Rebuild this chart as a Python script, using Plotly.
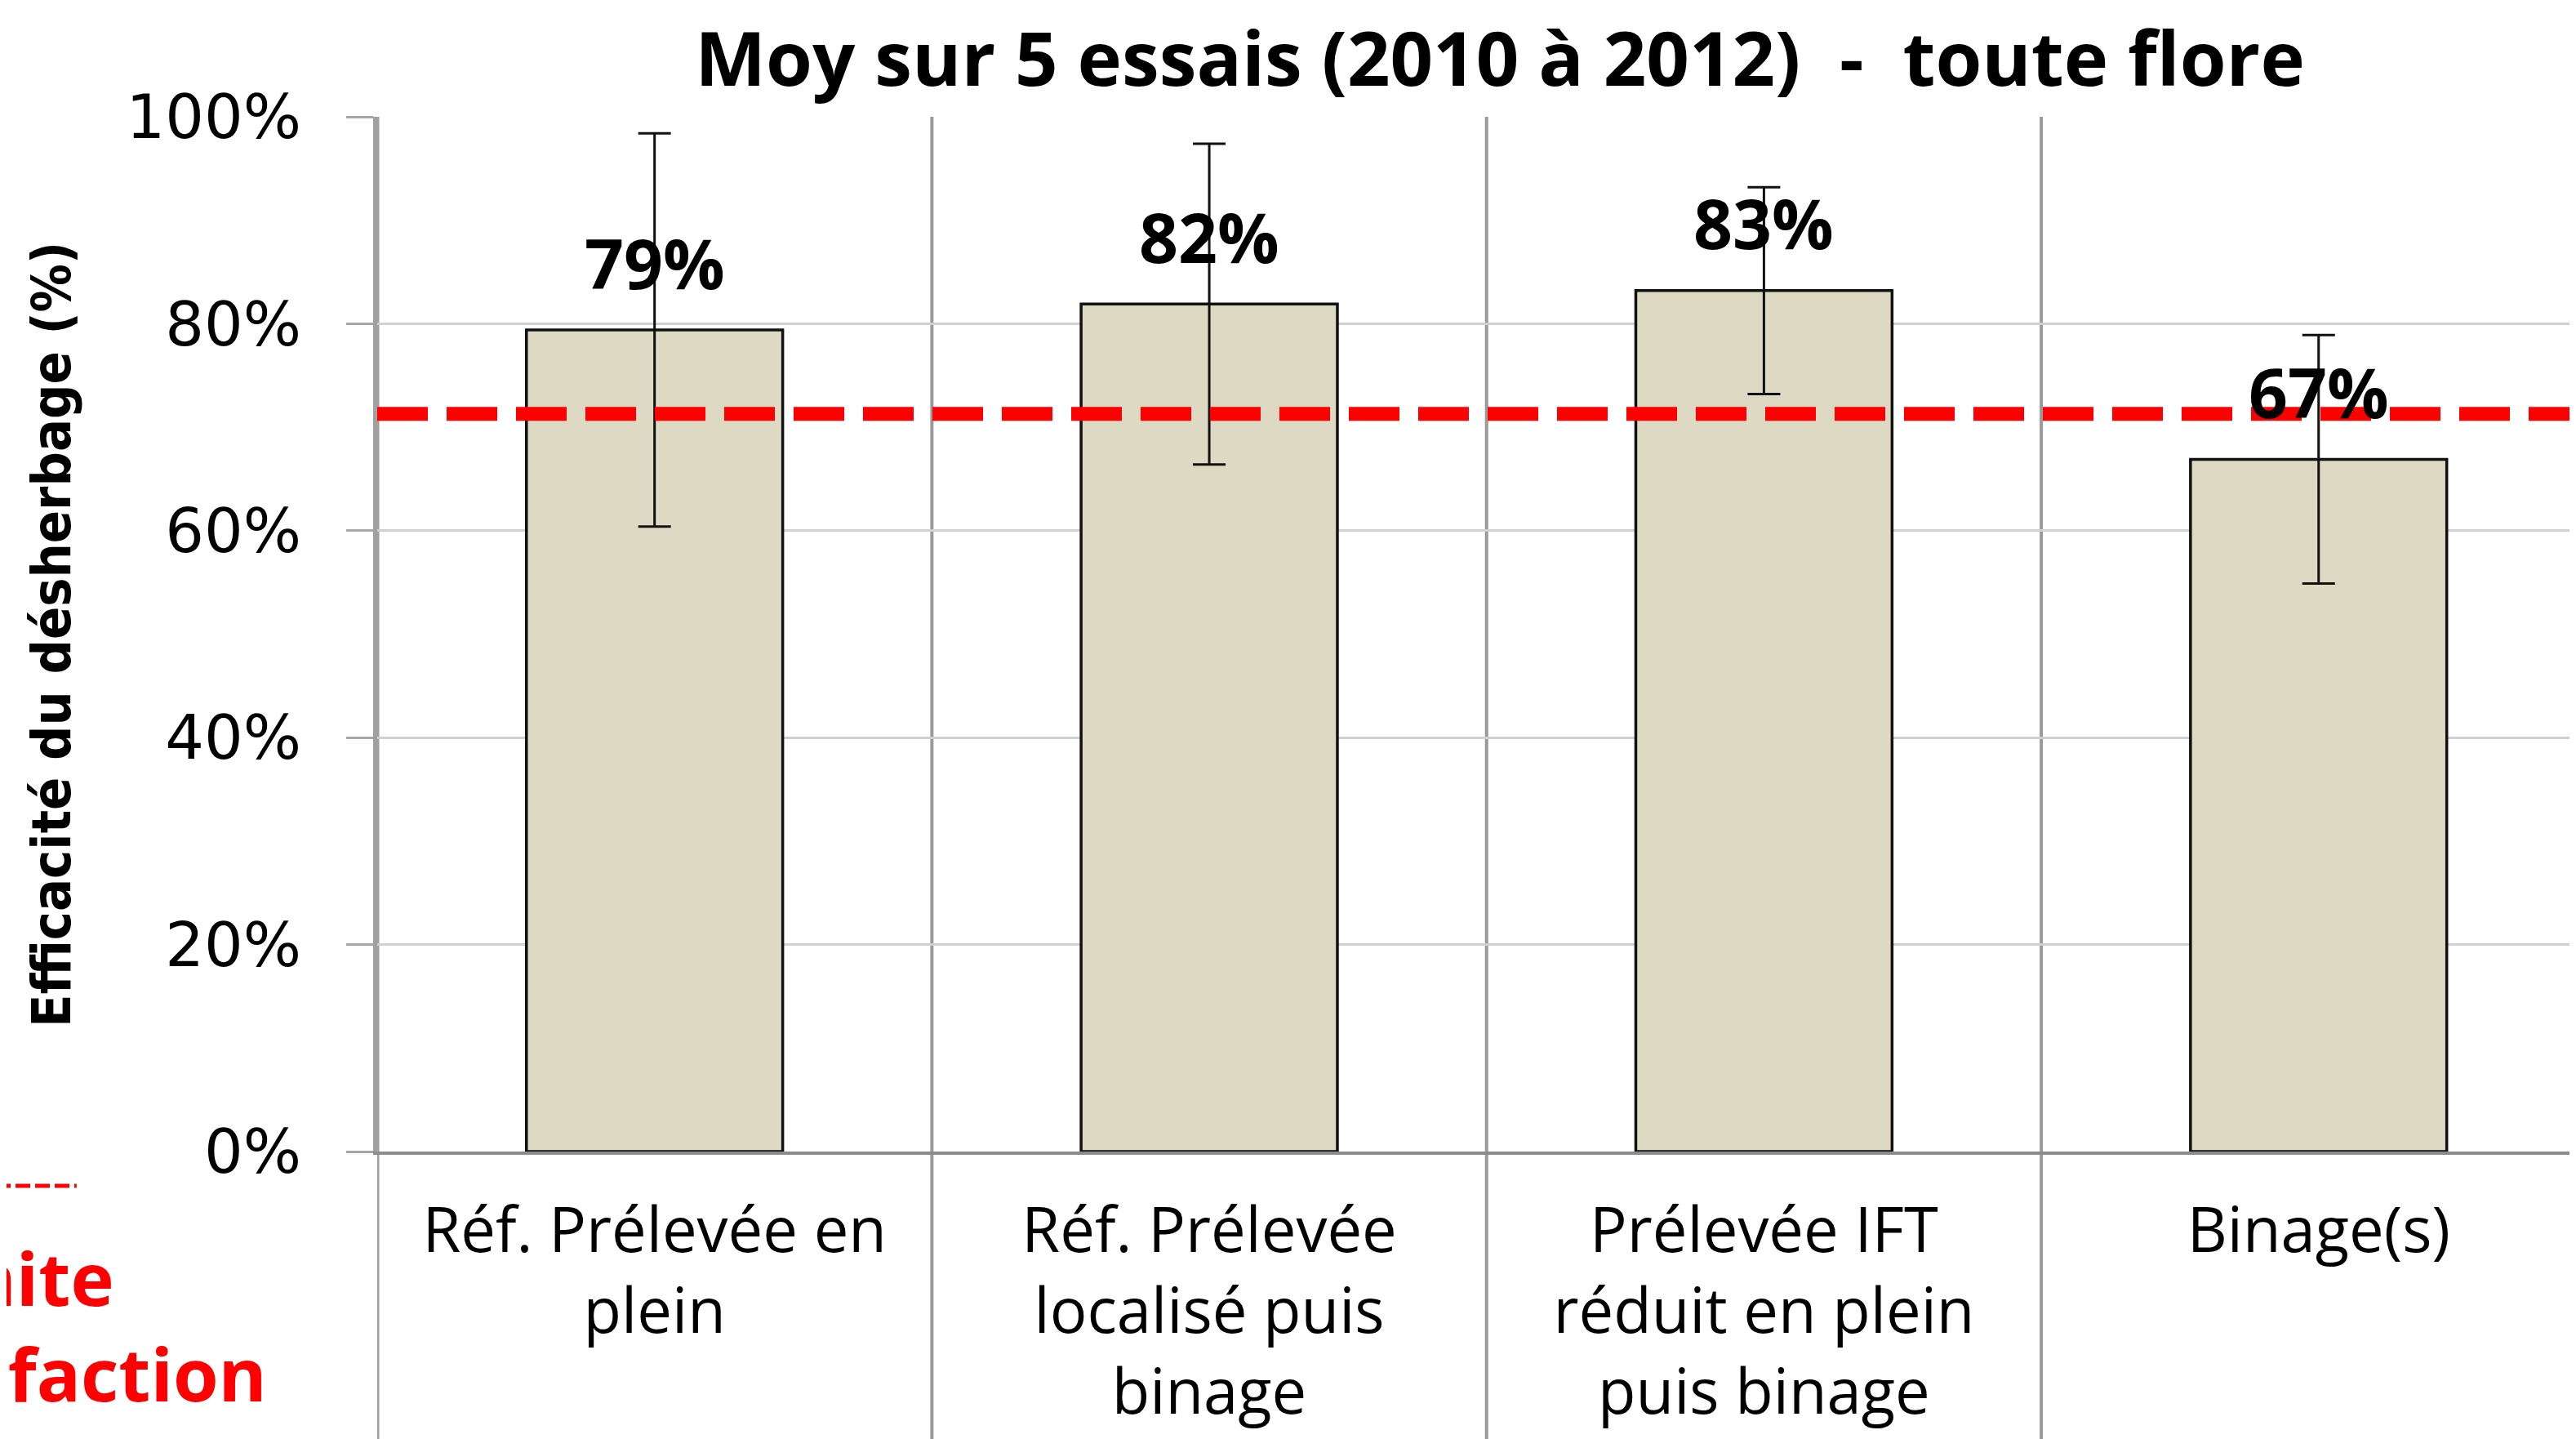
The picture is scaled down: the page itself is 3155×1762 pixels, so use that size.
import plotly.graph_objects as go

# ---- data ----
categories = [
    "Réf. Prélevée en<br>plein",
    "Réf. Prélevée<br>localisé puis<br>binage",
    "Prélevée IFT<br>réduit en plein<br>puis binage",
    "Binage(s)",
]
efficacite = [0.794, 0.819, 0.832, 0.669]
ecart = [0.19, 0.155, 0.10, 0.12]
seuil_satisfaction = 0.713
title_text = "Moy sur 5 essais (2010 à 2012)\u00a0\u00a0-\u00a0\u00a0toute flore"
y_title = "Efficacité du désherbage (%)"
seuil_label = "Limite<br>de satisfaction"

# page body has an 8px margin, so the figure is 8px smaller than the window
W, H = 3147, 1754
GRID = "#d0d0d0"
AXIS = "#9a9a9a"

fig = go.Figure()
fig.add_trace(go.Bar(
    x=categories,
    y=efficacite,
    marker=dict(color="#DDD9C3", line=dict(color="#111111", width=3.5)),
    error_y=dict(type="data", array=ecart, visible=True, color="#111111",
                 thickness=3, width=20),
    width=0.462,
    hoverinfo="skip",
))

shapes = []
# category separators (extend below the axis through the label area)
for i in range(len(categories)):
    shapes.append(dict(type="line", xref="x", yref="paper",
                       x0=i - 0.5, x1=i - 0.5, y0=-0.35, y1=1,
                       line=dict(color=AXIS if i else "#a0a0a0", width=4 if i else 5),
                       layer="below"))
# threshold line
shapes.append(dict(type="line", xref="paper", yref="y", x0=0, x1=1,
                   y0=seuil_satisfaction, y1=seuil_satisfaction,
                   line=dict(color="#FF0000", width=17, dash="62px,23px"),
                   layer="above"))
# legend-like sample of the threshold line (left, partly cropped)
shapes.append(dict(type="line", xref="paper", yref="paper",
                   x0=-0.1734, x1=-0.1367, y0=-0.0331, y1=-0.0331,
                   line=dict(color="#FF0000", width=5, dash="18px,6px")))

annotations = []
for c, v in zip(categories, efficacite):
    annotations.append(dict(x=c, y=v, xref="x", yref="y",
                            text="<b>%d%%</b>" % round(v * 100),
                            showarrow=False, yanchor="middle", yshift=83,
                            font=dict(family="Open Sans", size=84, color="black")))
annotations.append(dict(x=-0.148, y=0.5, xref="paper", yref="paper",
                        text="<b>" + y_title + "</b>", textangle=-90,
                        showarrow=False, xanchor="center", yanchor="middle",
                        font=dict(family="Liberation Sans Narrow, DejaVu Sans Condensed, sans-serif",
                                  size=66, color="black")))
annotations.append(dict(x=-0.1727, y=-0.1677, xref="paper", yref="paper",
                        text="<b>" + seuil_label + "</b>", align="center",
                        showarrow=False, xanchor="center", yanchor="middle",
                        font=dict(family="Open Sans", size=90, color="#FF0000")))

fig.update_layout(
    width=W, height=H,
    margin=dict(l=454, r=0, t=135, b=352, autoexpand=False),
    paper_bgcolor="white", plot_bgcolor="white",
    showlegend=False,
    bargap=0.538,
    title=dict(text="<b>" + title_text + "</b>", x=0.5106, xref="paper",
               y=1 - 65 / H, yref="container", xanchor="center", yanchor="middle",
               font=dict(family="Open Sans", size=92, color="black")),
    shapes=shapes,
    annotations=annotations,
    xaxis=dict(type="category", range=[-0.5, 3.464], showgrid=False,
               showline=True, linecolor="#8c8c8c", linewidth=4,
               ticks="", ticklabelstandoff=28,
               tickfont=dict(family="Open Sans", size=76, color="black"),
               automargin=False),
    yaxis=dict(range=[0, 1], dtick=0.2, tickformat=".0%",
               showgrid=True, gridcolor=GRID, gridwidth=3,
               showline=True, linecolor="#a0a0a0", linewidth=5,
               ticks="outside", ticklen=33, tickwidth=3, tickcolor="#a6a6a6",
               ticklabelstandoff=40, zeroline=False,
               tickfont=dict(family="DejaVu Sans", size=75, color="black"),
               automargin=False),
)

fig.write_html("out.html")
